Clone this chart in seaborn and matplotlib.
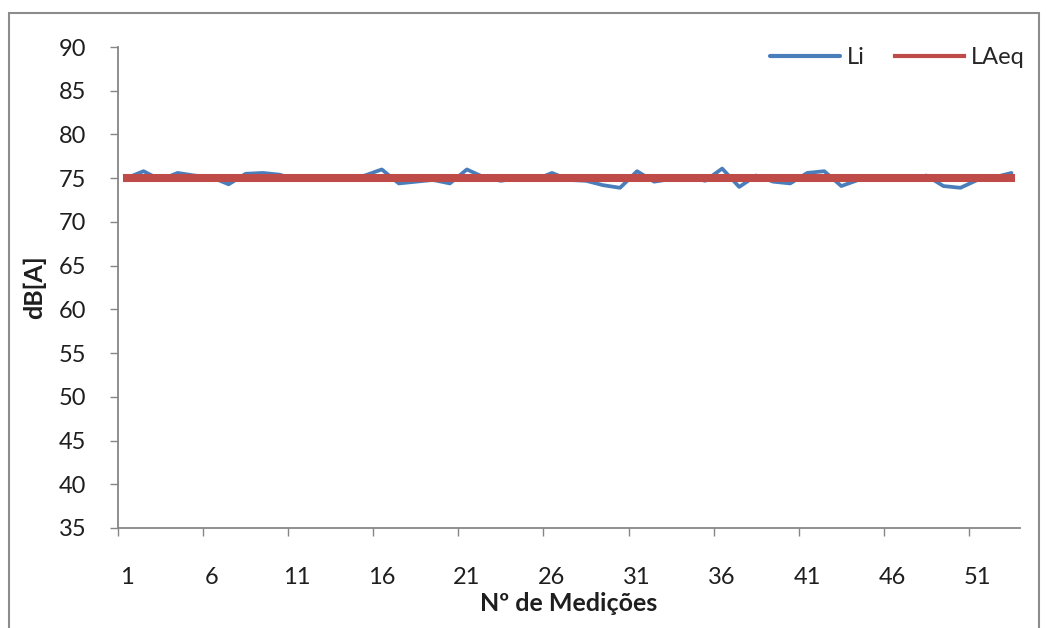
import matplotlib
matplotlib.use("Agg")
import matplotlib.pyplot as plt
import pandas as pd
import seaborn as sns
from matplotlib.patches import Rectangle

# Sound level measurements (dB[A]) per measurement number
medicoes = list(range(1, 54))
li = [75.0, 75.8, 74.8, 75.6, 75.3, 75.1, 74.3, 75.5, 75.6, 75.4,
      74.8, 74.9, 75.2, 75.0, 75.3, 76.0, 74.4, 74.6, 74.8, 74.4,
      76.0, 75.1, 74.7, 75.0, 74.8, 75.6, 74.8, 74.7, 74.2, 73.9,
      75.8, 74.6, 74.9, 75.2, 74.7, 76.1, 74.0, 75.3, 74.6, 74.4,
      75.6, 75.8, 74.1, 74.8, 74.8, 74.8, 74.8, 75.3, 74.1, 73.9,
      74.8, 75.1, 75.6]
laeq_level = 75.0
laeq = [laeq_level] * len(medicoes)

x_labels = [1, 6, 11, 16, 21, 26, 31, 36, 41, 46, 51]
y_ticks = [35, 40, 45, 50, 55, 60, 65, 70, 75, 80, 85, 90]

df = pd.DataFrame({"medicao": medicoes, "Li": li, "LAeq": laeq})

sns.set_theme(style="white")
plt.rcParams["font.family"] = ["Lato", "DejaVu Sans"]

W, H = 1046, 628
fig = plt.figure(figsize=(W / 100, H / 100), dpi=100)
fig.patch.set_facecolor("white")
ax = fig.add_axes([118 / W, 1 - 528 / H, (1020 - 118) / W, (528 - 47) / H])

blue = "#4A7EBB"
red = "#BE4B48"
text_col = "#1e1e1e"
sns.lineplot(data=df, x="medicao", y="Li", ax=ax, color=blue, linewidth=2.7,
             label="Li")
sns.lineplot(data=df, x="medicao", y="LAeq", ax=ax, color=red, linewidth=5.8,
             label="LAeq", solid_capstyle="projecting")

ax.set_xlim(0.5, len(medicoes) + 0.5)
ax.set_ylim(35, 90)
ax.set_yticks(y_ticks)
ax.set_xticks(x_labels)
ax.set_xticklabels([str(v) for v in x_labels])
ax.set_xticks([v - 0.5 for v in x_labels], minor=True)

grey = "#868686"
for side in ("top", "right"):
    ax.spines[side].set_visible(False)
for side in ("left", "bottom"):
    ax.spines[side].set_color(grey)
    ax.spines[side].set_linewidth(1.3)

ax.tick_params(axis="y", which="major", direction="out", length=6, width=1,
               color=grey, pad=17, labelsize=17, labelcolor=text_col, left=True)
ax.tick_params(axis="x", which="major", length=0, pad=28, labelsize=17,
               labelcolor=text_col)
ax.tick_params(axis="x", which="minor", direction="out", length=6, width=1,
               color=grey, bottom=True)

ax.set_xlabel("Nº de Medições", fontsize=18, fontweight="bold", color=text_col,
              labelpad=3)
ax.set_ylabel("dB[A]", fontsize=18, fontweight="bold", color=text_col,
              labelpad=9)

leg = ax.legend(loc="upper right", ncol=2, frameon=False, fontsize=17,
                handlelength=2.95, columnspacing=1.25, handletextpad=0.3,
                borderaxespad=0, bbox_to_anchor=(1.016, 1.02))
for line in leg.get_lines():
    line.set_linewidth(3.0)

# Chart-area border
fig.patches.append(Rectangle((9 / W, -0.05), (1039 - 9) / W, 1.05 - 13 / H,
                             transform=fig.transFigure, fill=False,
                             edgecolor="#8c8c8c", linewidth=1.5, zorder=0))

fig.savefig("out.png", dpi=100, facecolor="white")
